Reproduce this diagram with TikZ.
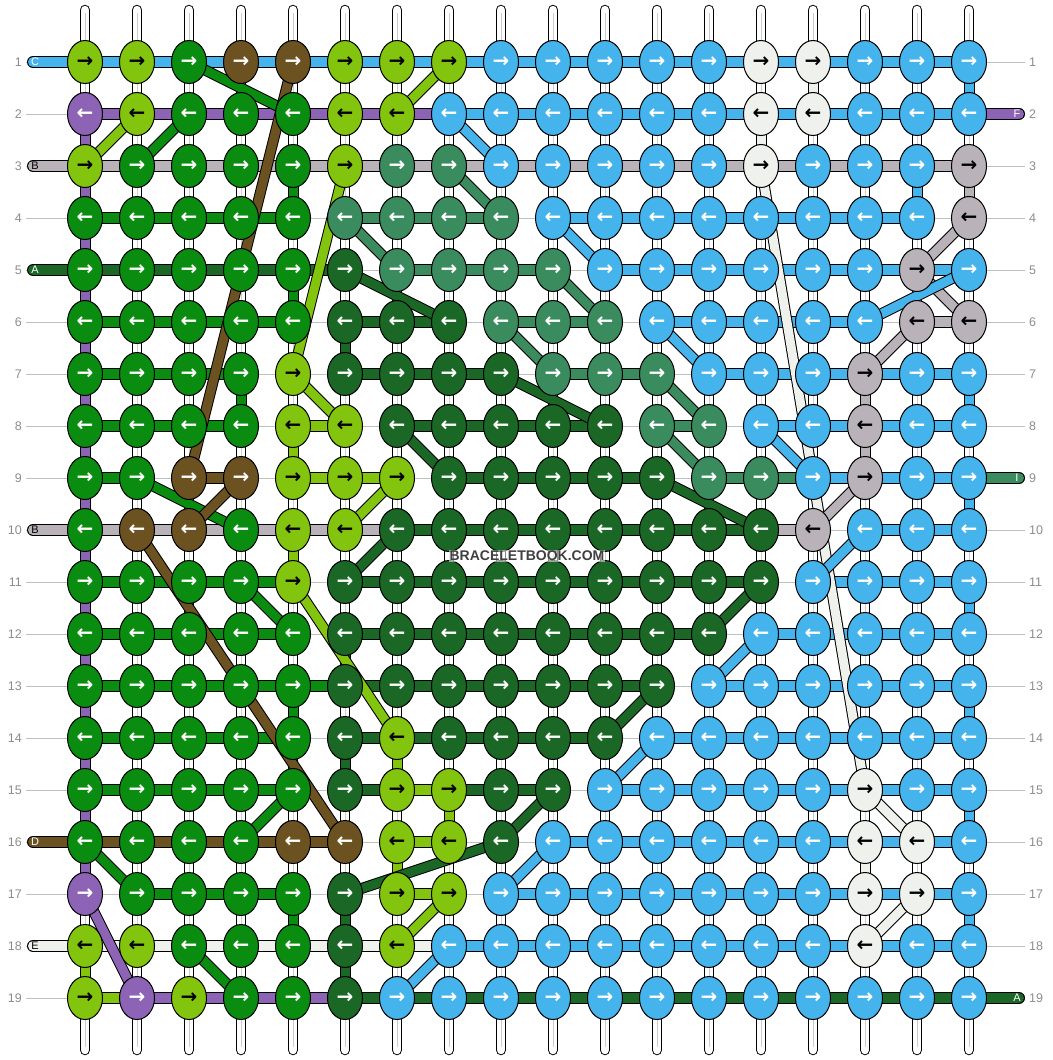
\documentclass[tikz,border=0pt]{standalone}
\usepackage{fontspec}
\usetikzlibrary{calc}
\usetikzlibrary{backgrounds}
\usetikzlibrary{shapes.geometric}
\newfontfamily\arrowfont{DejaVu Sans}
\newfontfamily\labelfont{Liberation Sans}

% thread colours
\definecolor{cL}{HTML}{82C40E}
\definecolor{cG}{HTML}{0A8C10}
\definecolor{cD}{HTML}{1B6826}
\definecolor{cT}{HTML}{3A8C5F}
\definecolor{cN}{HTML}{6B5220}
\definecolor{cP}{HTML}{8D63B5}
\definecolor{cB}{HTML}{46B4EC}
\definecolor{cW}{HTML}{EEF1EC}
\definecolor{cY}{HTML}{B9B2B9}
% arrow colour on each knot colour
\colorlet{aL}{black}
\colorlet{aW}{black}
\colorlet{aY}{black}
\colorlet{aG}{white}
\colorlet{aD}{white}
\colorlet{aT}{white}
\colorlet{aN}{white}
\colorlet{aP}{white}
\colorlet{aB}{white}

\tikzset{
  knot/.style={ellipse, draw=black, line width=1pt, fill=c#1, text=a#1,
    minimum width=35pt, minimum height=43pt, inner sep=0pt,
    font=\arrowfont\bfseries\fontsize{20}{20}\selectfont},
  bar/.style={draw=black, line width=1pt, double=c#1, double distance=10pt},
  stub/.style={draw=black, line width=1pt, double=c#1, double distance=9pt},
  slant/.style={draw=black, line width=1pt, double=c#1, double distance=9pt},
  tube/.style={draw=black, line width=1pt, double=white, double distance=8.5pt, line cap=round},
  core/.style={draw=black!20, line width=1pt},
  guide/.style={draw=black!25, line width=1pt},
  rownum/.style={text=black!45, inner sep=0pt, font=\labelfont\fontsize{12.5}{12.5}\selectfont},
  tag/.style={inner sep=0pt, font=\labelfont\fontsize{11}{11}\selectfont},
  stamp/.style={text=black!75, fill=white, fill opacity=0.55, text opacity=1, inner sep=1pt,
    font=\labelfont\bfseries\fontsize{14}{14}\selectfont}
}

\begin{document}
\begin{tikzpicture}[x=1pt, y=-1pt]
\useasboundingbox (0,0) rectangle (1052,1060);

% knots
\foreach \knots [count=\r] in {
  {L,L,G,N,N,L,L,L,B,B,B,B,B,W,W,B,B,B},
  {P,L,G,G,G,L,L,B,B,B,B,B,B,W,W,B,B,B},
  {L,G,G,G,G,L,T,T,B,B,B,B,B,W,B,B,B,Y},
  {G,G,G,G,G,T,T,T,T,B,B,B,B,B,B,B,B,Y},
  {G,G,G,G,G,D,T,T,T,T,B,B,B,B,B,B,Y,B},
  {G,G,G,G,G,D,D,D,T,T,T,B,B,B,B,B,Y,Y},
  {G,G,G,G,L,D,D,D,D,T,T,T,B,B,B,Y,B,B},
  {G,G,G,G,L,L,D,D,D,D,D,T,T,B,B,Y,B,B},
  {G,G,N,N,L,L,L,D,D,D,D,D,T,T,B,Y,B,B},
  {G,N,N,G,L,L,D,D,D,D,D,D,D,D,Y,B,B,B},
  {G,G,G,G,L,D,D,D,D,D,D,D,D,D,B,B,B,B},
  {G,G,G,G,G,D,D,D,D,D,D,D,D,B,B,B,B,B},
  {G,G,G,G,G,D,D,D,D,D,D,D,B,B,B,B,B,B},
  {G,G,G,G,G,D,L,D,D,D,D,B,B,B,B,B,B,B},
  {G,G,G,G,G,D,L,L,D,D,B,B,B,B,B,W,B,B},
  {G,G,G,G,N,N,L,L,D,B,B,B,B,B,B,W,W,B},
  {P,G,G,G,G,D,L,L,B,B,B,B,B,B,B,W,W,B},
  {L,L,G,G,G,D,L,B,B,B,B,B,B,B,B,W,B,B},
  {L,P,L,G,G,D,B,B,B,B,B,B,B,B,B,B,B,B}}{
  \foreach \k [count=\c] in \knots
    \node[knot=\k] (k-\c-\r) at ({33+52*\c}, {10+52*\r}) {\ifodd\r\relax →\else ←\fi};
}

% row numbers
\foreach \r in {1,...,19}{
  \node[rownum, anchor=east] (nl-\r) at (22, {10+52*\r}) {\r};
  \node[rownum, anchor=west] (nr-\r) at (1029, {10+52*\r}) {\r};
}

\begin{scope}[on background layer]
  % row guide lines
  \foreach \r in {1,...,19}{
    \coordinate (gl-\r) at (26, {10+52*\r});
    \coordinate (gr-\r) at (1025, {10+52*\r});
    \draw[guide] (gl-\r) -- (gr-\r);
  }
  % background strings
  \foreach \c in {1,...,18}{
    \coordinate (top-\c) at ({33+52*\c}, 10);
    \coordinate (bot-\c) at ({33+52*\c}, 1050);
    \draw[tube] (top-\c) -- (bot-\c);
    \draw[core] ($(top-\c)+(0,3)$) -- ($(bot-\c)+(0,-3)$);
  }
  % vertical pieces
  \foreach \r in {2,...,16}{
    \pgfmathtruncatemacro\rn{\r+1}
    \draw[stub=P] (k-1-\r.center) -- (k-1-\rn.center);
  }
  \foreach \c/\r/\s in {18/1/B, 15/1/W, 14/2/W, 5/3/G, 17/3/B, 18/3/Y, 5/5/G, 6/6/D,
      4/7/G, 16/7/Y, 18/7/B, 5/8/L, 16/8/Y, 18/9/B, 5/10/L, 18/11/B, 6/12/D,
      5/13/G, 18/13/B, 6/14/D, 7/14/L, 8/15/L, 18/15/B, 7/16/L, 16/16/W,
      5/17/G, 6/17/D, 18/17/B, 1/18/L, 6/18/D}{
    \pgfmathtruncatemacro\rn{\r+1}
    \draw[stub=\s] (k-\c-\r.center) -- (k-\c-\rn.center);
  }
  % horizontal pieces
  \foreach \segs [count=\r] in {
    {B,B,B,B,B,B,B,B,B,B,B,B,B,B,B,B,B},
    {P,P,P,P,P,P,P,B,B,B,B,B,B,B,B,B,B},
    {Y,Y,Y,Y,Y,Y,Y,Y,Y,Y,Y,Y,Y,Y,Y,Y,Y},
    {G,G,G,G,-,T,T,T,-,B,B,B,B,B,B,B,-},
    {D,D,D,D,D,-,T,T,T,-,B,B,B,B,B,B,B},
    {G,G,G,G,-,D,D,-,T,T,-,B,B,B,B,-,Y},
    {G,G,G,-,-,D,D,D,-,T,T,-,B,B,B,B,B},
    {G,G,G,-,L,-,D,D,D,D,-,T,-,B,B,B,B},
    {G,-,N,-,L,L,-,D,D,D,D,-,T,T,B,B,B},
    {Y,Y,Y,Y,Y,Y,D,D,D,D,D,D,D,Y,-,B,B},
    {G,G,G,G,-,D,D,D,D,D,D,D,D,-,B,B,B},
    {G,G,G,G,-,D,D,D,D,D,D,D,-,B,B,B,B},
    {G,G,G,G,G,D,D,D,D,D,D,-,B,B,B,B,B},
    {G,G,G,G,-,D,D,D,D,D,-,B,B,B,B,B,B},
    {G,G,G,G,-,D,L,D,D,-,B,B,B,B,B,B,B},
    {N,N,N,N,N,-,L,-,-,B,B,B,B,B,B,B,B},
    {-,G,G,G,-,-,L,-,B,B,B,B,B,B,B,B,B},
    {W,W,W,W,W,W,W,B,B,B,B,B,B,B,B,B,B},
    {L,P,P,P,P,D,D,D,D,D,D,D,D,D,D,D,D}}{
    \foreach \s [count=\c] in \segs {
      \pgfmathtruncatemacro\cn{\c+1}
      \if\s-\else
        \draw[bar=\s] (k-\c-\r.center) -- (k-\cn-\r.center);
      \fi
    }
  }
  % loose ends
  \foreach \r/\s in {1/B, 3/Y, 5/D, 10/Y, 16/N, 18/W}{
    \coordinate (in-\r) at (33, {10+52*\r});
    \draw[bar=\s, line cap=round] (in-\r) -- (k-1-\r.center);
  }
  \foreach \r/\s in {2/P, 9/T, 19/D}{
    \coordinate (out-\r) at (1019, {10+52*\r});
    \draw[bar=\s, line cap=round] (k-18-\r.center) -- (out-\r);
  }
  % slanted pieces
  \foreach \a/\b/\s in {3-1/5-2/G, 5-1/3-9/N, 8-1/7-2/L, 2-2/1-3/L, 3-2/2-3/G,
      8-2/9-3/B, 6-3/5-7/L, 8-3/9-4/T, 14-3/16-15/W, 6-4/7-5/T, 10-4/11-5/B,
      18-4/17-5/Y, 6-5/8-6/D, 10-5/11-6/T, 17-5/18-6/Y, 18-5/16-6/B, 9-6/10-7/T,
      12-6/13-7/B, 17-6/16-7/Y, 5-7/6-8/L, 9-7/11-8/D, 12-7/13-8/T, 7-8/8-9/D,
      12-8/13-9/T, 14-8/15-9/B, 2-9/4-10/G, 4-9/3-10/N, 7-9/6-10/L, 12-9/14-10/D,
      16-9/15-10/Y, 2-10/6-16/N, 7-10/6-11/D, 16-10/15-11/B, 4-11/5-12/G,
      5-11/7-14/L, 14-11/13-12/D, 14-12/13-13/B, 12-13/11-14/D, 12-14/11-15/B,
      5-15/4-16/G, 10-15/9-16/D, 16-15/17-16/W, 1-16/2-17/G, 6-17/9-16/D,
      10-16/9-17/B, 1-17/2-19/P, 8-17/7-18/L, 17-17/16-18/W, 3-18/4-19/G,
      8-18/7-19/B}
    \draw[slant=\s] (k-\a.center) -- (k-\b.center);
\end{scope}

% thread letters
\foreach \r/\t/\l in {1/white/C, 3/black/B, 5/white/A, 10/black/B, 16/white/D, 18/black/E}
  \node[tag, text=\t] (tag-\r) at (35, {10+52*\r}) {\l};
\foreach \r/\l in {2/F, 9/I, 19/A}
  \node[tag, text=white] (end-\r) at (1017, {10+52*\r}) {\l};

\node[stamp] (site) at (527, 556) {BRACELETBOOK.COM};

\end{tikzpicture}
\end{document}
